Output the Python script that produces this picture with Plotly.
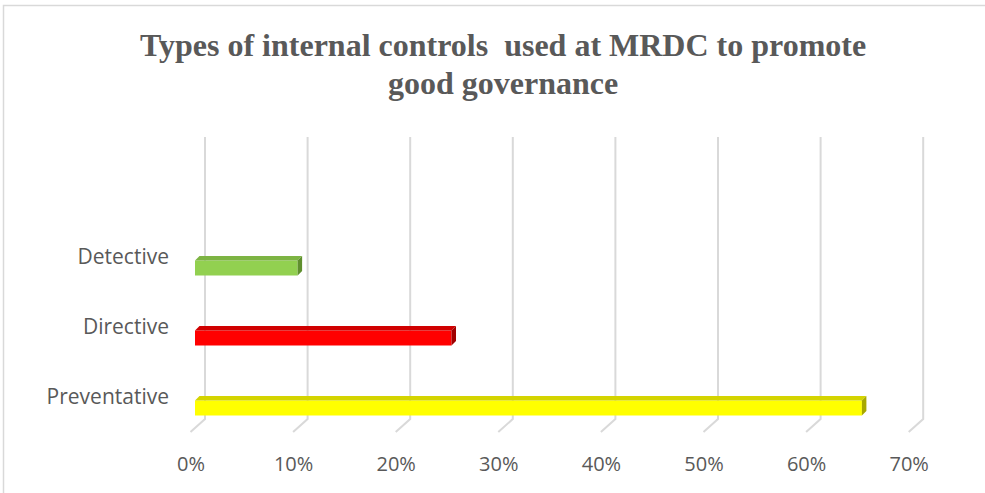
import plotly.graph_objects as go

# Data
categories = ["Preventative", "Directive", "Detective"]
values = [65, 25, 10]  # percent
tick_values = [0, 10, 20, 30, 40, 50, 60, 70]
tick_labels = ["0%", "10%", "20%", "30%", "40%", "50%", "60%", "70%"]
title_lines = ["Types of internal controls  used at MRDC to promote", "good governance"]

front_colors = ["#FFFF00", "#FF0000", "#92D050"]
top_colors = ["#D4D400", "#D00000", "#7DB443"]
side_colors = ["#A8A800", "#A00000", "#5F8F2E"]

# Layout geometry (pixels)
W, H = 985, 493
L, R, T, B = 185, 50, 130, 53
PX_PER_PCT = 10.26
X0_PX = 195.0            # pixel of 0% on the front plane
CAT_STEP = 70.0          # pixels between categories
CAT0_PX = 408.0          # pixel centre of first category

plot_w = W - L - R
plot_h = H - T - B
x_range = [(L - X0_PX) / PX_PER_PCT, (L + plot_w - X0_PX) / PX_PER_PCT]
y_range = [(CAT0_PX - (T + plot_h)) / CAT_STEP, (CAT0_PX - T) / CAT_STEP]


def dx(px):
    return px / PX_PER_PCT


def dy(px):
    return px / CAT_STEP


def y_of(px):
    return (CAT0_PX - px) / CAT_STEP


def px_paper_x(px):
    return (px - L) / plot_w


def px_paper_y(py):
    return (T + plot_h - py) / plot_h


BAR_W = 15 / CAT_STEP
DEPTH_X, DEPTH_Y = dx(4.5), dy(4.5)

fig = go.Figure()
shapes = []

# Floor/back-wall gridlines (3D style)
GRID_TOP, GRID_BEND, GRID_BOT = 137, 419, 432
for v in tick_values:
    xb = v + dx(10)
    xf = v + dx(-4.5)
    shapes.append(dict(type="path", xref="x", yref="y",
                       path=f"M{xb},{y_of(GRID_TOP)} L{xb},{y_of(GRID_BEND)} L{xf},{y_of(GRID_BOT)}",
                       line=dict(color="#D9D9D9", width=2), layer="below"))

# Front faces
fig.add_trace(go.Bar(
    y=list(range(len(categories))), x=values, orientation="h",
    width=BAR_W, marker=dict(color=front_colors, line=dict(width=0)),
    hoverinfo="skip", showlegend=False,
))

# Top and side faces
for i, v in enumerate(values):
    ytop = i + BAR_W / 2
    ybot = i - BAR_W / 2
    shapes.append(dict(type="path", xref="x", yref="y",
                       path=f"M0,{ytop} L{v},{ytop} L{v + DEPTH_X},{ytop + DEPTH_Y} L{DEPTH_X},{ytop + DEPTH_Y} Z",
                       fillcolor=top_colors[i], line=dict(width=0), layer="above"))
    shapes.append(dict(type="path", xref="x", yref="y",
                       path=f"M{v},{ybot} L{v + DEPTH_X},{ybot + DEPTH_Y} L{v + DEPTH_X},{ytop + DEPTH_Y} L{v},{ytop} Z",
                       fillcolor=side_colors[i], line=dict(width=0), layer="above"))

# Chart frame
shapes.append(dict(type="path", xref="paper", yref="paper",
                   path=f"M{px_paper_x(3.5)},{px_paper_y(495)} L{px_paper_x(3.5)},{px_paper_y(5.5)} L{px_paper_x(990)},{px_paper_y(5.5)}",
                   line=dict(color="#D9D9D9", width=1.5)))

# Two-line title
annotations = []
for text, ypx in zip(title_lines, [45, 83]):
    annotations.append(dict(
        text=f"<b>{text}</b>", showarrow=False,
        xref="paper", yref="paper", x=px_paper_x(503), y=px_paper_y(ypx),
        xanchor="center", yanchor="middle",
        font=dict(family="Liberation Serif, Times New Roman, serif", size=32, color="#595959"),
    ))

fig.update_layout(
    width=W, height=H,
    margin=dict(l=L, r=R, t=T, b=B),
    paper_bgcolor="white", plot_bgcolor="white",
    shapes=shapes,
    annotations=annotations,
    xaxis=dict(range=x_range, showgrid=False, zeroline=False, showline=False,
               tickmode="array", tickvals=tick_values, ticktext=tick_labels,
               ticklabelshift=-4, ticklabelstandoff=10,
               tickfont=dict(family="Open Sans, sans-serif", size=20, color="#595959")),
    yaxis=dict(range=y_range, showgrid=False, zeroline=False, showline=False,
               tickmode="array", tickvals=list(range(len(categories))), ticktext=categories,
               ticklabelstandoff=15, ticklabelshift=-11,
               tickfont=dict(family="Open Sans, sans-serif", size=21, color="#595959")),
)

fig.write_html("out.html")
